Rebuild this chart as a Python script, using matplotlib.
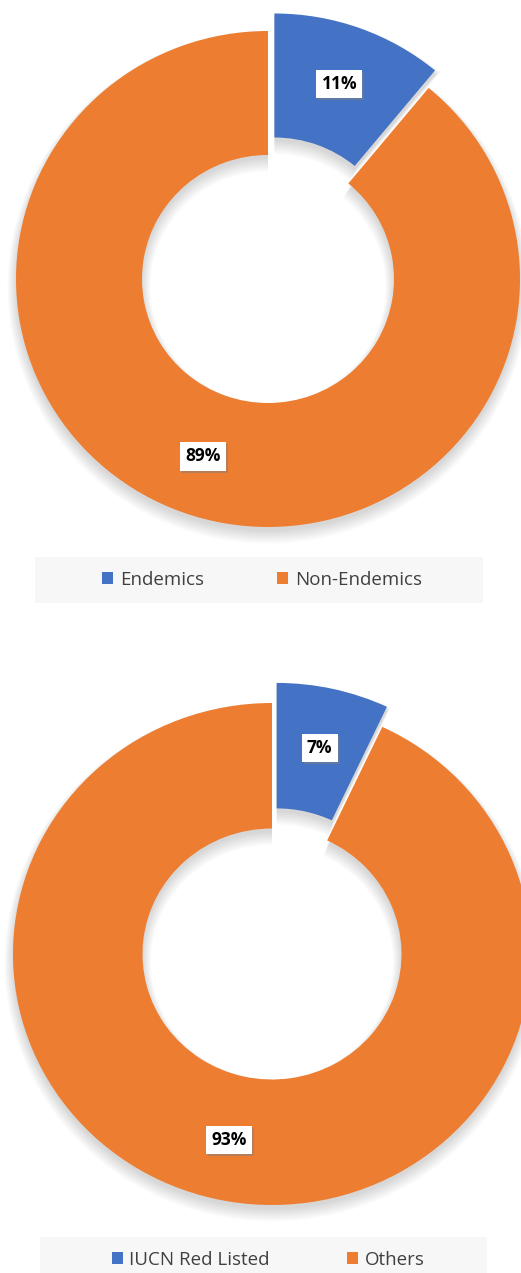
import matplotlib
matplotlib.use('Agg')
import matplotlib.pyplot as plt
from matplotlib.patches import Rectangle
from matplotlib.transforms import offset_copy

plt.rcParams['font.family'] = ['Open Sans', 'DejaVu Sans']

# shares in percent
endemic_labels = ['Endemics', 'Non-Endemics']
endemic_shares = [11, 89]
redlist_labels = ['IUCN Red Listed', 'Others']
redlist_shares = [7, 93]
slice_colors = ['#4472C4', '#ED7D31']

W, H = 521, 1273


def draw_donut(fig, shares, top, bottom, cx, cy, rx, ry, explode):
	'''
	One exploded doughnut in its own axes; cx, cy, rx, ry are in pixels.
	'''
	ax = fig.add_axes([0, 1 - bottom / H, 1, (bottom - top) / H])
	explodes = [explode, 0]
	# layered soft shadow under the ring, pushed down a little
	for k in range(8):
		grow = k * 1.2 / rx
		ax.pie(shares, explode=explodes, startangle=90, counterclock=False,
		       radius=1 + grow, center=(0, -(4 + k * 0.6) / ry), colors=['black', 'black'],
		       wedgeprops=dict(width=0.5 + 2 * grow, linewidth=0, alpha=0.02))
	wedges, _, autotexts = ax.pie(shares, explode=explodes, startangle=90, counterclock=False,
	                              colors=slice_colors, autopct='%d%%', pctdistance=0.76,
	                              wedgeprops=dict(width=0.5, linewidth=0))
	shadow_tr = offset_copy(ax.transData, fig=fig, x=1.5, y=-1.5, units='points')
	for t in autotexts:
		t.set_fontsize(12.5)
		t.set_fontweight('bold')
		t.set_color('black')
		t.set_zorder(4)
		t.set_bbox(dict(boxstyle='square,pad=0.3', fc='white', ec='none'))
		x, y = t.get_position()
		ax.text(x, y, t.get_text(), transform=shadow_tr, ha='center', va='center',
		        fontsize=12.5, fontweight='bold', color='none', zorder=3,
		        bbox=dict(boxstyle='square,pad=0.3', fc='#7f7f7f', ec='none', alpha=0.5))
	ax.set_aspect('auto')
	ax.set_xlim(-cx / rx, (W - cx) / rx)
	ax.set_ylim((cy - bottom) / ry, (cy - top) / ry)
	return wedges


def draw_legend(fig, wedges, labels, box, center, spacing):
	x0, y0, x1, y1 = box
	fig.add_artist(Rectangle((x0 / W, 1 - y1 / H), (x1 - x0) / W, (y1 - y0) / H,
	                         transform=fig.transFigure, fc='#f7f7f7', ec='none', zorder=0))
	fig.legend(wedges, labels, loc='center', bbox_to_anchor=(center[0] / W, 1 - center[1] / H),
	           ncol=2, frameon=False, fontsize=13.5, handlelength=0.6, handleheight=0.6,
	           handletextpad=0.35, columnspacing=spacing, labelcolor='#404040')


fig = plt.figure(figsize=(W / 100, H / 100), dpi=100)

wedges_1 = draw_donut(fig, endemic_shares, 0, 550, 268, 279, 252, 248, 0.075)
draw_legend(fig, wedges_1, endemic_labels, (35, 557, 483, 603), (262, 580), 3.9)

wedges_2 = draw_donut(fig, redlist_shares, 640, 1232, 272, 954, 259, 251, 0.082)
draw_legend(fig, wedges_2, redlist_labels, (40, 1237, 487, 1273), (268, 1260), 4.1)

fig.savefig('out.png', dpi=100)
